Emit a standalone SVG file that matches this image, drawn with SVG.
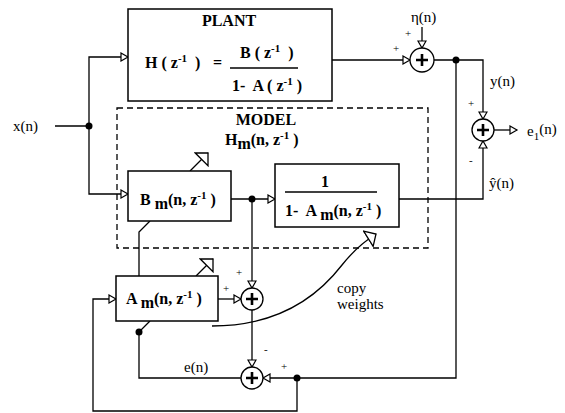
<svg xmlns="http://www.w3.org/2000/svg" width="565" height="413" viewBox="0 0 565 413">
<defs>
<style>
.box{fill:#fff;stroke:#000;stroke-width:1.5}
.dash{fill:none;stroke:#000;stroke-width:1.3;stroke-dasharray:6,4}
.ln{fill:none;stroke:#000;stroke-width:1.3}
.arr{marker-end:url(#ah)}
.adj{marker-end:url(#adjh)}
.dot{fill:#000}
.sum{fill:#fff;stroke:#000;stroke-width:1.3}
.plus{stroke:#000;stroke-width:2.6;fill:none}
text{font-family:"Liberation Serif","DejaVu Serif",serif;fill:#000}
.b{font-weight:bold;font-size:16px}
.r{font-size:15px}
.s{font-size:11px}
.sup{font-size:11px}
</style>
<marker id="ah" markerUnits="userSpaceOnUse" markerWidth="10" markerHeight="10" viewBox="0 0 10 10" refX="8" refY="5" orient="auto">
<path d="M1,1 L8,5 L1,9 z" fill="#fff" stroke="#000" stroke-width="1.2"/>
</marker>
<marker id="adjh" markerUnits="userSpaceOnUse" markerWidth="12" markerHeight="20" viewBox="0 0 12 20" refX="10" refY="10" orient="auto">
<path d="M1,1 L10,10 L1,19 z" fill="#fff" stroke="#000" stroke-width="1.3"/>
</marker>
</defs>
<rect width="565" height="413" fill="#fff"/>

<g id="model">
<rect class="dash" x="117" y="108" width="311" height="140"/>
<text class="b" x="266" y="125" text-anchor="middle">MODEL</text>
<text class="b" x="225" y="145" xml:space="preserve">H<tspan dy="4">m</tspan><tspan dy="-4">(n, z</tspan><tspan class="sup" dy="-6">-1</tspan><tspan dy="6"> )</tspan></text>
</g>

<g id="connectors">
<path class="ln" d="M55,126 H89"/>
<path class="ln arr" d="M89,126 V57 H128"/>
<path class="ln arr" d="M89,126 V194 H128"/>
<path class="ln arr" d="M332,60 H410"/>
<path class="ln arr" d="M422,27 V48"/>
<path class="ln arr" d="M434,60 H483 V119"/>
<path class="ln arr" d="M231,199 H275"/>
<path class="ln arr" d="M252,199 V288"/>
<path class="ln arr" d="M399,199 H483 V141"/>
<path class="ln arr" d="M494,130 H517"/>
<path class="ln arr" d="M456,60 V378 H263"/>
<path class="ln arr" d="M297,378 V411 H93 V299 H116"/>
<path class="ln arr" d="M218,299 H241"/>
<path class="ln arr" d="M252,310 V367"/>
<path class="ln" d="M241,378 H139 V332 L150,321"/>
<path class="ln" d="M139,276 V232 L150,221"/>
<path class="ln adj" d="M190,171 L208,153"/>
<path class="ln adj" d="M196,276 L213,259"/>
<path class="ln adj" d="M212,326 C280,326 318,296 342,265 C350,255 360,244 376,234"/>
<circle class="dot" cx="89" cy="126" r="3.5"/>
<circle class="dot" cx="252" cy="199" r="3.5"/>
<circle class="dot" cx="456" cy="60" r="3.5"/>
<circle class="dot" cx="297" cy="378" r="3.5"/>
<circle class="dot" cx="139" cy="332" r="3.5"/>
</g>

<g id="plant">
<rect class="box" x="128" y="9" width="204" height="92"/>
<text class="b" x="229" y="26" text-anchor="middle">PLANT</text>
<text class="b" x="145" y="68" xml:space="preserve">H ( z<tspan class="sup" dy="-6">-1</tspan><tspan dy="6">  )</tspan></text>
<text class="b" x="213" y="68">=</text>
<text class="b" x="240" y="58" xml:space="preserve">B ( z<tspan class="sup" dy="-6">-1</tspan><tspan dy="6">  )</tspan></text>
<path class="ln" d="M230,68 H298"/>
<text class="b" x="232" y="91" xml:space="preserve">1-  A ( z<tspan class="sup" dy="-6">-1</tspan><tspan dy="6"> )</tspan></text>
</g>

<g id="bm">
<rect class="box" x="128" y="171" width="103" height="50"/>
<text class="b" x="140" y="205" xml:space="preserve">B <tspan dy="4">m</tspan><tspan dy="-4">(n, z</tspan><tspan class="sup" dy="-6">-1</tspan><tspan dy="6"> )</tspan></text>
</g>

<g id="inv">
<rect class="box" x="275" y="164" width="124" height="63"/>
<text class="b" x="325" y="187" text-anchor="middle">1</text>
<path class="ln" d="M285,192 H377"/>
<text class="b" x="285" y="216" xml:space="preserve">1-  A <tspan dy="4">m</tspan><tspan dy="-4">(n, z</tspan><tspan class="sup" dy="-6">-1</tspan><tspan dy="6"> )</tspan></text>
</g>

<g id="am">
<rect class="box" x="116" y="276" width="102" height="45"/>
<text class="b" x="126" y="304" xml:space="preserve">A <tspan dy="4">m</tspan><tspan dy="-4">(n, z</tspan><tspan class="sup" dy="-6">-1</tspan><tspan dy="6"> )</tspan></text>
</g>

<g id="sum1">
<circle class="sum" cx="422" cy="60" r="12"/>
<path class="plus" d="M416,60 H428 M422,54 V66"/>
</g>
<g id="sum2">
<circle class="sum" cx="483" cy="130" r="11"/>
<path class="plus" d="M477,130 H489 M483,124 V136"/>
</g>
<g id="sum3">
<circle class="sum" cx="252" cy="299" r="11"/>
<path class="plus" d="M246,299 H258 M252,293 V305"/>
</g>
<g id="sum4">
<circle class="sum" cx="252" cy="378" r="11"/>
<path class="plus" d="M246,378 H258 M252,372 V384"/>
</g>

<g id="labels">
<text class="r" x="13" y="131">x(n)</text>
<text class="r" x="411" y="22">η(n)</text>
<text class="s" x="405" y="37">+</text>
<text class="s" x="393" y="52">+</text>
<text class="r" x="490" y="86">y(n)</text>
<text class="s" x="468" y="107">+</text>
<text class="s" x="469" y="164">-</text>
<text class="r" x="489" y="188">ŷ(n)</text>
<text class="r" x="527" y="136">e<tspan class="s" dy="4">1</tspan><tspan dy="-6">(n)</tspan></text>
<text class="s" x="236" y="276">+</text>
<text class="s" x="223" y="292">+</text>
<text class="s" x="264" y="353">-</text>
<text class="s" x="281" y="370">+</text>
<text class="r" x="184" y="372">e(n)</text>
<text class="r" x="337" y="293">copy</text>
<text class="r" x="337" y="309">weights</text>
</g>
</svg>
